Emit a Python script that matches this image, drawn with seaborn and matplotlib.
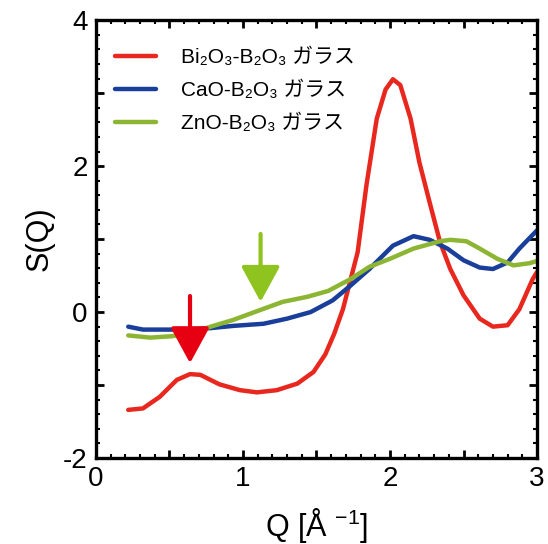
import numpy as np
import pandas as pd
import matplotlib
matplotlib.use("Agg")
import matplotlib.pyplot as plt
from matplotlib.ticker import MultipleLocator
import seaborn as sns

# ---- data ----
bi_q = [0.22, 0.32, 0.435, 0.55, 0.64, 0.71, 0.84, 0.98, 1.095, 1.23, 1.37, 1.48, 1.56, 1.62, 1.68,
        1.78, 1.84, 1.91, 1.97, 2.02, 2.07, 2.14, 2.20, 2.27, 2.34, 2.41, 2.50, 2.61, 2.70, 2.80,
        2.88, 2.97, 3.0]
bi_s = [-1.34, -1.32, -1.16, -0.93, -0.85, -0.86, -0.99, -1.07, -1.10, -1.07, -0.98, -0.82, -0.58,
        -0.30, 0.04, 0.82, 1.74, 2.65, 3.05, 3.19, 3.11, 2.65, 2.05, 1.50, 0.96, 0.59, 0.23, -0.09,
        -0.20, -0.18, 0.04, 0.45, 0.55]
ca_q = [0.22, 0.32, 0.48, 0.64, 0.78, 0.93, 1.14, 1.30, 1.46, 1.61, 1.73, 1.86, 2.02, 2.16, 2.27,
        2.39, 2.50, 2.61, 2.70, 2.80, 2.88, 3.0]
ca_s = [-0.20, -0.24, -0.24, -0.24, -0.22, -0.19, -0.16, -0.09, 0.0, 0.16, 0.36, 0.59, 0.91, 1.04,
        0.99, 0.87, 0.71, 0.61, 0.59, 0.68, 0.87, 1.12]
zn_q = [0.22, 0.37, 0.52, 0.64, 0.78, 0.93, 1.12, 1.27, 1.44, 1.58, 1.73, 1.86, 2.0, 2.16, 2.34,
        2.41, 2.52, 2.61, 2.73, 2.84, 2.95, 3.0]
zn_s = [-0.32, -0.35, -0.33, -0.29, -0.20, -0.11, 0.03, 0.14, 0.21, 0.29, 0.45, 0.62, 0.73, 0.87,
        0.97, 0.99, 0.97, 0.87, 0.73, 0.64, 0.67, 0.70]
labels = ["Bi₂O₃-B₂O₃ ガラス", "CaO-B₂O₃ ガラス", "ZnO-B₂O₃ ガラス"]
colors = ["#e8281e", "#1a3f9a", "#8db534"]
x_ticks = [0, 0.5, 1, 1.5, 2, 2.5, 3]
x_ticklabels = ["0", "", "1", "", "2", "", "3"]
y_ticks = [-2, -1, 0, 1, 2, 3, 4]
y_ticklabels = ["-2", "", "0", "", "2", "", "4"]

df = pd.concat([
    pd.DataFrame({"Q": bi_q, "S": bi_s, "glass": labels[0]}),
    pd.DataFrame({"Q": ca_q, "S": ca_s, "glass": labels[1]}),
    pd.DataFrame({"Q": zn_q, "S": zn_s, "glass": labels[2]}),
])

sns.set_style("ticks")
plt.rcParams["font.family"] = ["Liberation Sans", "DejaVu Sans", "Noto Sans CJK JP"]
plt.rcParams["mathtext.fontset"] = "custom"
plt.rcParams["mathtext.rm"] = "Liberation Sans"
plt.rcParams["mathtext.default"] = "regular"
plt.rcParams["axes.unicode_minus"] = False
for k in ["text.color", "axes.labelcolor", "xtick.color", "ytick.color", "axes.edgecolor"]:
    plt.rcParams[k] = "black"

fig = plt.figure(figsize=(5.48, 5.44), dpi=100)
ax = fig.add_axes([0.175, 0.158, 0.805, 0.805])

sns.lineplot(data=df, x="Q", y="S", hue="glass", palette=colors, sort=False,
             estimator=None, lw=3.2, ax=ax)

# arrows
ax.annotate("", xy=(0.64, -0.70), xytext=(0.64, 0.22),
            arrowprops=dict(arrowstyle="-|>,head_length=1.1,head_width=0.6",
                            mutation_scale=20, lw=3, color="#e60012", shrinkA=0, shrinkB=0))
ax.annotate("", xy=(1.12, 0.14), xytext=(1.12, 1.07),
            arrowprops=dict(arrowstyle="-|>,head_length=1.1,head_width=0.6",
                            mutation_scale=20, lw=3, color="#8fc31f", shrinkA=0, shrinkB=0))

ax.set_xlim(0, 3)
ax.set_ylim(-2, 4)
ax.set_xticks(x_ticks, x_ticklabels)
ax.set_yticks(y_ticks, y_ticklabels)
ax.xaxis.set_minor_locator(MultipleLocator(0.1))
ax.yaxis.set_minor_locator(MultipleLocator(0.2))
ax.tick_params(which="major", direction="in", length=6, width=2, top=True, right=True,
               labelsize=20, pad=6)
ax.tick_params(which="minor", direction="in", length=3, width=1.5, top=True, right=True)
for s in ax.spines.values():
    s.set_linewidth(2.4)
    s.set_visible(True)

ax.set_xlabel("Q [Å $^{-1}$]", fontsize=22, labelpad=10)
ax.set_ylabel("S(Q)", fontsize=22, labelpad=6)

leg = ax.legend(loc="upper left", bbox_to_anchor=(0.0, 0.98), frameon=False, fontsize=15,
                handlelength=2.0, handletextpad=1.2, labelspacing=0.65, borderaxespad=0.5)
for h in leg.get_lines():
    h.set_linewidth(3.2)

fig.savefig("out.png", dpi=100)
